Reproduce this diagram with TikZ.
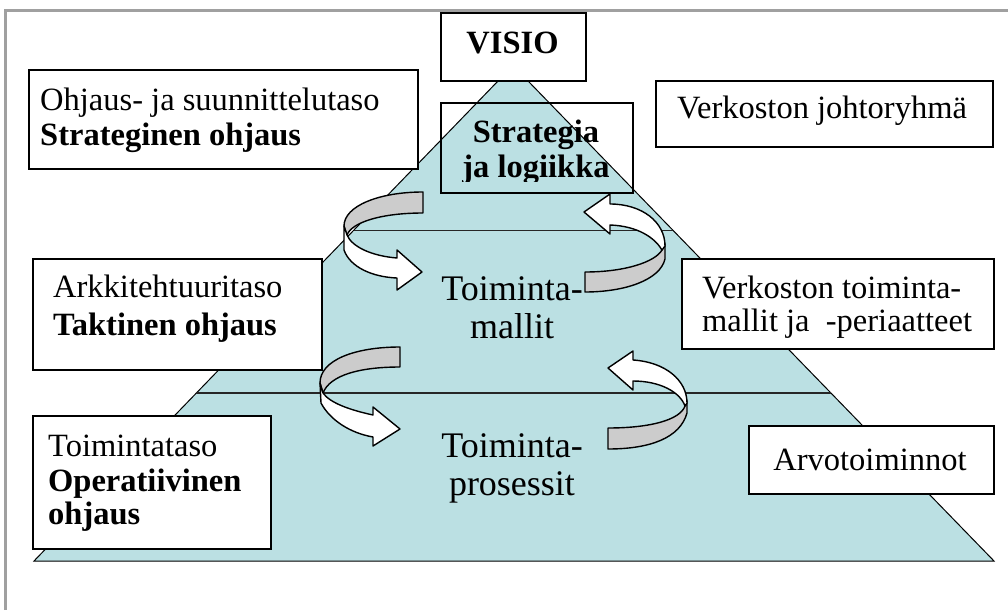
\documentclass[tikz,border=0pt]{standalone}
\usepackage{fontspec}
\setmainfont{Liberation Serif}
\usetikzlibrary{calc}
\definecolor{pyrfill}{RGB}{187,224,227}
\definecolor{bandgray}{RGB}{204,204,204}
\definecolor{framegray}{RGB}{160,160,160}
\begin{document}
\begin{tikzpicture}[x=1pt,y=-1pt,
  box/.style={draw=black, line width=1.6pt, fill=white, anchor=north west, inner sep=0pt},
  clearbox/.style={draw=black, line width=1.6pt, anchor=north west, inner sep=0pt},
  lbl/.style={anchor=base west, inner sep=0pt, font=\fontsize{32.5}{35}\selectfont},
  clbl/.style={anchor=base, inner sep=0pt, font=\fontsize{32.5}{35}\selectfont},
  biglbl/.style={anchor=base, inner sep=0pt, font=\fontsize{36}{40}\selectfont},
  backband/.style={fill=bandgray, draw=black, line width=1.4pt, line join=round},
  frontband/.style={fill=white, draw=black, line width=1.4pt, line join=round},
  level/.style={draw=black!85}
]
\useasboundingbox (0,0) rectangle (1008,610);
\fill[white] (0,0) rectangle (1008,610);

% page frame
\draw[framegray, line width=3pt] (5,610) -- (5,10.5) -- (1008,10.5);

% pyramid
\coordinate (apex) at (513,65.5);
\coordinate (bl) at (34,561);
\coordinate (br) at (994,561);
\draw[fill=pyrfill, draw=black, line width=1pt] (apex) -- (br) -- (bl) -- cycle;
\draw[level, line width=1pt] ($(apex)!0.332!(bl)$) -- ($(apex)!0.332!(br)$);
\draw[level, line width=1.6pt] ($(apex)!0.661!(bl)$) -- ($(apex)!0.661!(br)$);

% level texts
\node[biglbl] (tm1) at (512,300) {Toiminta-};
\node[biglbl] (tm2) at (512,338) {mallit};
\node[biglbl] (tp1) at (512,457) {Toiminta-};
\node[biglbl] (tp2) at (512,495) {prosessit};

% circular arrow, upper left
\draw[backband] (423,192) .. controls (379,192) and (344,206) .. (344,226)
  -- (347,235) .. controls (352,222) and (382,213) .. (423,213) -- cycle;
\draw[frontband] (344,226) -- (344,250) .. controls (350,267) and (372,277) .. (397,278)
  -- (397,290) -- (422,272) -- (397,250) -- (397,258)
  .. controls (372,256) and (352,247) .. (347,235) -- cycle;

% circular arrow, upper right
\draw[backband] (665,244) -- (665,259) .. controls (660,280) and (625,292) .. (585,292)
  -- (585,272) .. controls (625,272) and (655,262) .. (662,250) -- cycle;
\draw[frontband] (584,212) -- (610,194) -- (610,204)
  .. controls (642,204) and (665,222) .. (665,246) -- (662,250)
  .. controls (655,238) and (638,226) .. (610,225) -- (610,234) -- cycle;

% circular arrow, lower left
\draw[backband] (400,347) .. controls (355,347) and (320,360) .. (320,383)
  -- (323,393) .. controls (330,375) and (360,367) .. (400,367) -- cycle;
\draw[frontband] (320,383) -- (321,403) .. controls (330,420) and (350,433) .. (373,437)
  -- (373,446) -- (400,429) -- (373,407) -- (373,415)
  .. controls (350,410) and (330,403) .. (323,393) -- cycle;

% circular arrow, lower right
\draw[backband] (687,401) -- (687,413) .. controls (680,438) and (650,449) .. (608,449)
  -- (608,428) .. controls (650,428) and (680,420) .. (685,406) -- cycle;
\draw[frontband] (608,368) -- (633,351) -- (633,360)
  .. controls (665,362) and (687,380) .. (687,403) -- (685,406)
  .. controls (680,392) and (660,381) .. (633,381) -- (633,390) -- cycle;

% top of the pyramid
\node[box, minimum width=145pt, minimum height=68pt] (visio) at (440,12) {};
\node[clbl] (visiot) at (512.5,54) {\textbf{VISIO}};
\node[clearbox, minimum width=192pt, minimum height=90pt] (strat) at (440,102) {};
\begin{scope}
  \clip (440,102) rectangle (632,181);
  \node[clbl] (strat1) at (536,142) {\textbf{Strategia}};
  \node[clbl] (strat2) at (536,177) {\textbf{ja logiikka}};
\end{scope}

% left column
\node[box, minimum width=389pt, minimum height=99pt] (ohj) at (28,69) {};
\node[lbl] (ohj1) at (40,110) {Ohjaus- ja suunnittelutaso};
\node[lbl] (ohj2) at (40,145) {\textbf{Strateginen ohjaus}};

\node[box, minimum width=289pt, minimum height=111pt] (ark) at (32,258) {};
\node[lbl] (ark1) at (53,297) {Arkkitehtuuritaso};
\node[lbl] (ark2) at (53,335) {\textbf{Taktinen ohjaus}};

\node[box, minimum width=238pt, minimum height=133pt] (toi) at (32,415) {};
\node[lbl] (toi1) at (48,456) {Toimintataso};
\node[lbl] (toi2) at (48,491) {\textbf{Operatiivinen}};
\node[lbl] (toi3) at (48,524) {\textbf{ohjaus}};

% right column
\node[box, minimum width=337pt, minimum height=66pt] (joh) at (655,80) {};
\node[lbl] (joh1) at (677,118) {Verkoston johtoryhmä};

\node[box, minimum width=312pt, minimum height=90pt] (ver) at (681,258) {};
\node[lbl] (ver1) at (702,298) {Verkoston toiminta-};
\node[lbl] (ver2) at (702,331) {mallit ja\ \ -periaatteet};

\node[box, minimum width=245pt, minimum height=68pt] (arv) at (748,425) {};
\node[clbl] (arv1) at (870,470) {Arvotoiminnot};
\end{tikzpicture}
\end{document}
